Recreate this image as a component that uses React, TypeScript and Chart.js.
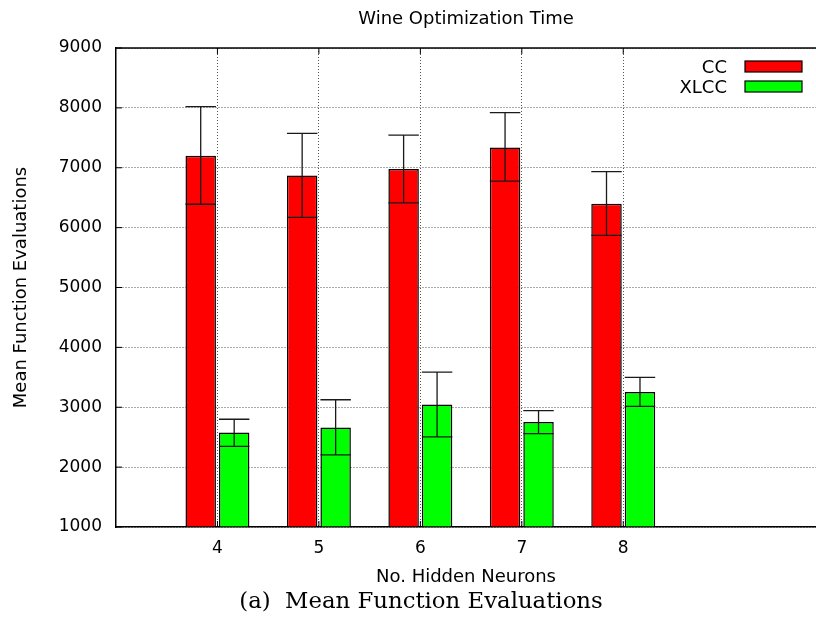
import React, { useEffect, useRef } from 'react';
import { Chart, registerables } from 'chart.js';

Chart.register(...registerables);

// ---- data ----
const NEURONS = [4, 5, 6, 7, 8];
const CC_MEAN = [7200, 6870, 6980, 7340, 6400];
const CC_LOW = [6390, 6170, 6415, 6775, 5870];
const CC_HIGH = [8020, 7575, 7545, 7920, 6935];
const XLCC_MEAN = [2580, 2660, 3045, 2755, 3255];
const XLCC_LOW = [2345, 2205, 2505, 2560, 3015];
const XLCC_HIGH = [2800, 3125, 3585, 2945, 3500];

const X_MIN = 3;
const X_MAX = 9.9;
const Y_MIN = 1000;
const Y_MAX = 9000;
const Y_STEP = 1000;

const TITLE = 'Wine Optimization Time';
const X_TITLE = 'No. Hidden Neurons';
const Y_TITLE = 'Mean Function Evaluations';
const CAPTION = '(a)  Mean Function Evaluations';

const FONT = "'DejaVu Sans', sans-serif";
const GRID = '#555555';

const errorBarPlugin = {
  id: 'errorBars',
  afterDatasetsDraw(chart: any) {
    const { ctx } = chart;
    const y = chart.scales.y;
    chart.data.datasets.forEach((ds: any, i: number) => {
      const meta = chart.getDatasetMeta(i);
      meta.data.forEach((bar: any, j: number) => {
        const x = bar.x;
        const w = bar.width;
        const yl = y.getPixelForValue(ds.errLow[j]);
        const yh = y.getPixelForValue(ds.errHigh[j]);
        ctx.save();
        ctx.strokeStyle = '#1a1a1a';
        ctx.lineWidth = 1.3;
        ctx.beginPath();
        ctx.moveTo(x, yh);
        ctx.lineTo(x, yl);
        ctx.moveTo(x - w / 2, yh);
        ctx.lineTo(x + w / 2, yh);
        ctx.moveTo(x - w / 2, yl);
        ctx.lineTo(x + w / 2, yl);
        ctx.stroke();
        ctx.restore();
      });
    });
  },
};

const framePlugin = {
  id: 'frame',
  afterDatasetsDraw(chart: any) {
    const { ctx, chartArea } = chart;
    const { left, right, top, bottom } = chartArea;
    ctx.save();
    ctx.strokeStyle = '#000';
    ctx.lineWidth = 1.5;
    ctx.beginPath();
    ctx.moveTo(left, top);
    ctx.lineTo(right, top);
    ctx.stroke();
    ctx.lineWidth = 1;
    ctx.beginPath();
    chart.scales.y.ticks.forEach((t: any) => {
      const py = chart.scales.y.getPixelForValue(t.value);
      ctx.moveTo(left, py);
      ctx.lineTo(left + 6, py);
    });
    chart.scales.x.ticks.forEach((t: any) => {
      const px = chart.scales.x.getPixelForValue(t.value);
      ctx.moveTo(px, bottom);
      ctx.lineTo(px, bottom - 6);
      ctx.moveTo(px, top);
      ctx.lineTo(px, top + 6);
    });
    ctx.stroke();
    ctx.restore();
  },
};

const legendPlugin = {
  id: 'gpLegend',
  afterDraw(chart: any) {
    const { ctx, chartArea } = chart;
    const boxW = 57;
    const boxH = 11;
    const boxR = chartArea.right - 14;
    chart.data.datasets.forEach((ds: any, i: number) => {
      const cy = chartArea.top + 18.5 + i * 20;
      ctx.save();
      ctx.fillStyle = ds.backgroundColor;
      ctx.fillRect(boxR - boxW, cy - boxH / 2, boxW, boxH);
      ctx.strokeStyle = '#000';
      ctx.lineWidth = 1.2;
      ctx.strokeRect(boxR - boxW, cy - boxH / 2, boxW, boxH);
      ctx.fillStyle = '#000';
      ctx.font = `18px ${FONT}`;
      ctx.textAlign = 'right';
      ctx.textBaseline = 'middle';
      ctx.fillText(ds.label, boxR - boxW - 18, cy + 1.5);
      ctx.restore();
    });
  },
};

export default function App() {
  const canvasRef = useRef<HTMLCanvasElement | null>(null);

  useEffect(() => {
    const canvas = canvasRef.current;
    if (!canvas) return;
    const chart = new Chart(canvas, {
      type: 'bar',
      data: {
        datasets: [
          {
            label: 'CC',
            data: NEURONS.map((n, i) => ({ x: n, y: CC_MEAN[i] })),
            backgroundColor: '#ff0000',
            borderColor: '#000000',
            borderWidth: 1.5,
            base: Y_MIN,
            categoryPercentage: 0.66,
            barPercentage: 0.91,
            errLow: CC_LOW,
            errHigh: CC_HIGH,
          } as any,
          {
            label: 'XLCC',
            data: NEURONS.map((n, i) => ({ x: n, y: XLCC_MEAN[i] })),
            backgroundColor: '#00ff00',
            borderColor: '#000000',
            borderWidth: 1.5,
            base: Y_MIN,
            categoryPercentage: 0.66,
            barPercentage: 0.91,
            errLow: XLCC_LOW,
            errHigh: XLCC_HIGH,
          } as any,
        ],
      },
      options: {
        responsive: false,
        animation: false,
        devicePixelRatio: 1,
        layout: { padding: { left: 0, right: 0, top: 0, bottom: 32 } },
        plugins: {
          legend: { display: false },
          tooltip: { enabled: false },
          title: {
            display: true,
            text: TITLE,
            fullSize: false,
            color: '#000',
            font: { family: FONT, size: 18, weight: 'normal' },
            padding: { top: 9, bottom: 17.4 },
          },
        },
        scales: {
          x: {
            type: 'linear',
            min: X_MIN,
            max: X_MAX,
            offset: false,
            afterBuildTicks: (s: any) => {
              s.ticks = NEURONS.map((v) => ({ value: v }));
            },
            afterFit: (s: any) => {
              s.height = 61;
            },
            ticks: {
              color: '#000',
              font: { family: FONT, size: 17 },
              padding: 11,
              autoSkip: false,
              maxRotation: 0,
              callback: (v: any) => String(v),
            },
            grid: { color: GRID, lineWidth: 1, drawTicks: false, offset: false },
            border: { display: true, color: '#000', width: 1.5, dash: [1, 2] },
            title: {
              display: true,
              text: X_TITLE,
              color: '#000',
              font: { family: FONT, size: 18 },
              padding: { top: 0, bottom: 0 },
            },
          },
          y: {
            type: 'linear',
            min: Y_MIN,
            max: Y_MAX,
            afterFit: (s: any) => {
              s.width = 116;
            },
            ticks: {
              stepSize: Y_STEP,
              color: '#000',
              font: { family: FONT, size: 17 },
              padding: 14,
              callback: (v: any) => String(v),
            },
            grid: { color: GRID, lineWidth: 1, drawTicks: false },
            border: { display: true, color: '#000', width: 1.5, dash: [1, 2] },
            title: {
              display: true,
              text: Y_TITLE,
              color: '#000',
              font: { family: FONT, size: 18 },
              padding: { top: 11, bottom: 0 },
            },
          },
        },
      } as any,
      plugins: [framePlugin, errorBarPlugin, legendPlugin],
    });
    return () => chart.destroy();
  }, []);

  return (
    <div
      style={{
        position: 'absolute',
        left: 0,
        top: 0,
        width: 816,
        height: 620,
        overflow: 'hidden',
        background: '#fff',
      }}
    >
      <canvas ref={canvasRef} width={816} height={620} style={{ display: 'block' }} />
      <div
        style={{
          position: 'absolute',
          left: 121,
          width: 600,
          top: 586,
          textAlign: 'center',
          whiteSpace: 'pre',
          fontFamily: "'DejaVu Serif', serif",
          fontSize: 22.8,
          lineHeight: '28px',
          color: '#000',
        }}
      >
        {CAPTION}
      </div>
    </div>
  );
}
